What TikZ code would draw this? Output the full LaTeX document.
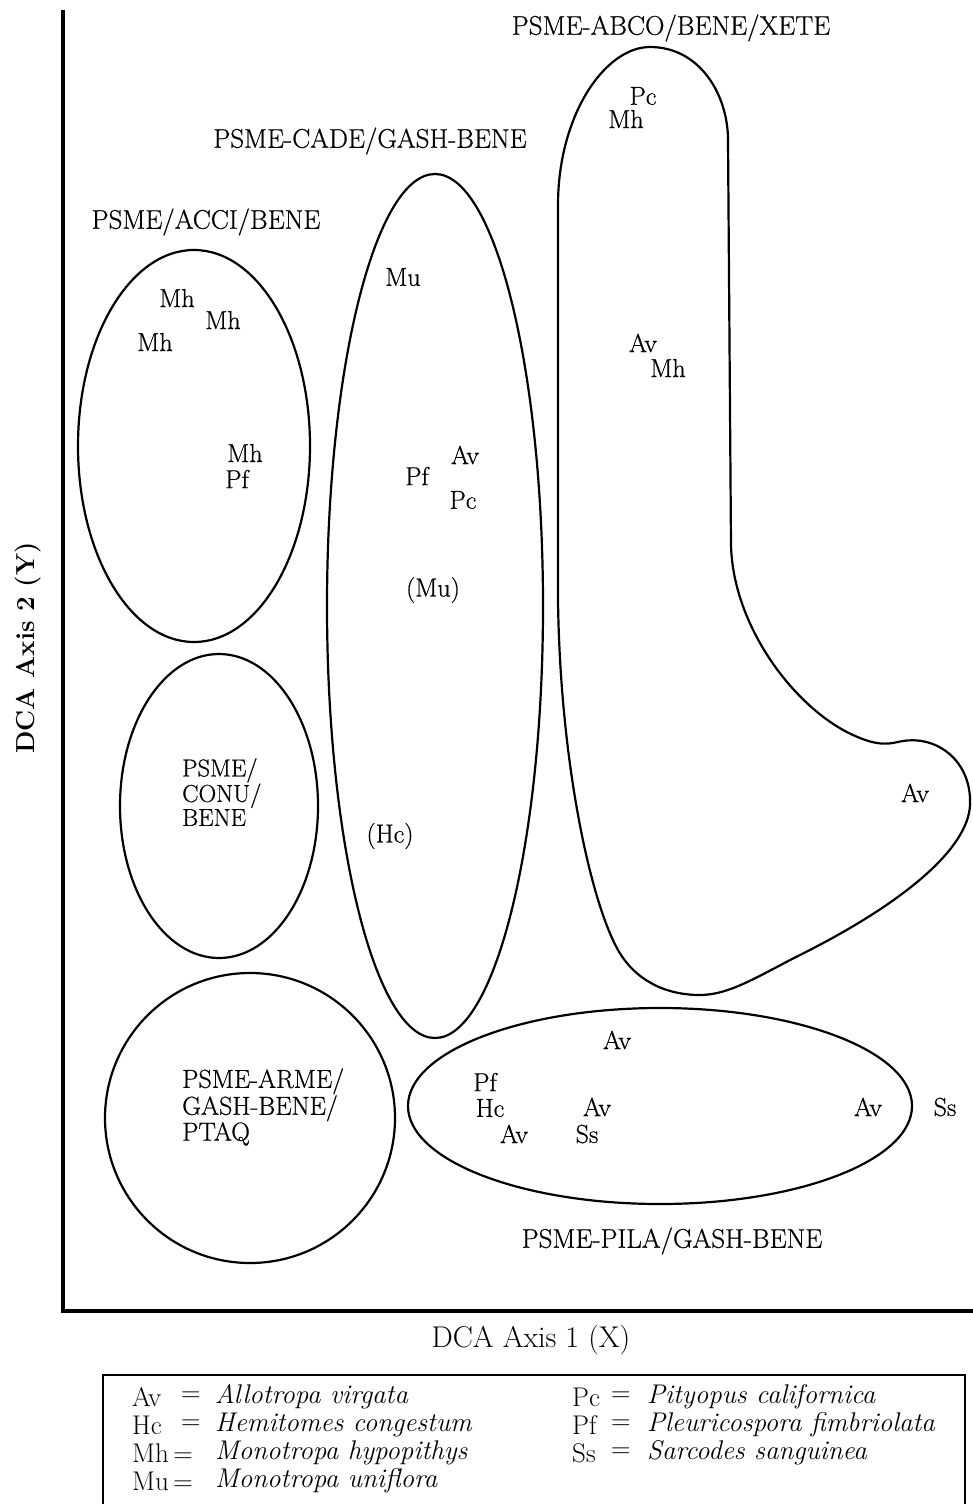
\documentclass[tikz,border=0pt]{standalone}
\usepackage{fontspec}
\newfontfamily\heavyrm{Latin Modern Roman}[FakeBold=0.6]
\begin{document}
\begin{tikzpicture}[x=1pt,y=-1pt,
  region/.style={draw=black, line width=2.2pt},
  lab/.style={font=\heavyrm\fontsize{27}{29}\selectfont, inner sep=0pt},
  sp/.style={font=\heavyrm\fontsize{26}{27}\selectfont, inner sep=0pt},
  blk/.style={font=\heavyrm\fontsize{24.5}{24}\selectfont, inner sep=0pt, align=left, anchor=west},
  leg/.style={font=\fontsize{27}{28}\selectfont, inner sep=0pt, anchor=west},
  axis/.style={line width=4pt}]
\useasboundingbox (0,0) rectangle (972,1504);
% axes
\coordinate (ytop) at (63,10);
\coordinate (orig) at (63,1311);
\coordinate (xend) at (975,1311);
\draw[axis] (ytop) -- (orig) -- (xend);
\node[font=\bfseries\fontsize{26}{28}\selectfont, rotate=90, inner sep=0pt] (ylab) at (28,648) {DCA Axis 2 (Y)};
\node[font=\fontsize{30}{32}\selectfont, inner sep=0pt] (xlab) at (531,1340) {DCA Axis 1 (X)};
% regions
\draw[region] (194,446) ellipse [x radius=116, y radius=196];
\draw[region] (219,806) ellipse [x radius=99, y radius=152];
\draw[region] (250,1118) ellipse [x radius=145, y radius=145];
\draw[region] (435,606) ellipse [x radius=108, y radius=432];
\draw[region] (660,1106) ellipse [x radius=252, y radius=98];
\draw[region] (558,600) -- (558,205)
  .. controls (558,115) and (605,47) .. (650,47)
  .. controls (700,47) and (728,95) .. (728,140)
  -- (731,545)
  .. controls (733,630) and (800,715) .. (860,738)
  .. controls (875,744) and (885,745) .. (898,742)
  .. controls (935,733) and (972,760) .. (970,805)
  .. controls (968,850) and (900,905) .. (800,955)
  .. controls (760,975) and (730,995) .. (700,995)
  .. controls (665,995) and (635,980) .. (618,950)
  .. controls (590,900) and (560,760) .. (558,600) -- cycle;
% region labels
\node[lab] (tABCO) at (671,28) {PSME-ABCO/BENE/XETE};
\node[lab] (tCADE) at (370,141) {PSME-CADE/GASH-BENE};
\node[lab] (tACCI) at (206,222) {PSME/ACCI/BENE};
\node[lab] (tPILA) at (672,1241) {PSME-PILA/GASH-BENE};
\node[blk] (tCONU) at (182,792) {PSME/\\CONU/\\BENE};
\node[blk, font=\heavyrm\fontsize{26}{24}\selectfont] (tARME) at (182,1107) {PSME-ARME/\\GASH-BENE/\\PTAQ};
% species, ACCI
\node[sp] (a1) at (177,298) {Mh};
\node[sp] (a2) at (223,320) {Mh};
\node[sp] (a3) at (155,342) {Mh};
\node[sp] (a4) at (245,453) {Mh};
\node[sp] (a5) at (237,479) {Pf};
% CADE
\node[sp] (c1) at (403,277) {Mu};
\node[sp] (c2) at (465,455) {Av};
\node[sp] (c3) at (417,476) {Pf};
\node[sp] (c4) at (463,500) {Pc};
\node[sp] (c5) at (433,590) {(Mu)};
\node[sp] (c6) at (390,836) {(Hc)};
% ABCO
\node[sp] (b1) at (643,96) {Pc};
\node[sp] (b2) at (626,119) {Mh};
\node[sp] (b3) at (643,343) {Av};
\node[sp] (b4) at (668,368) {Mh};
\node[sp] (b5) at (915,793) {Av};
% PILA
\node[sp] (p1) at (617,1040) {Av};
\node[sp] (p2) at (485,1082) {Pf};
\node[sp] (p3) at (490,1108) {Hc};
\node[sp] (p4) at (514,1134) {Av};
\node[sp] (p5) at (597,1107) {Av};
\node[sp] (p6) at (587,1134) {Ss};
\node[sp] (p7) at (868,1107) {Av};
\node[sp] (p8) at (945,1107) {Ss};
% legend
\coordinate (lgA) at (103,1530);
\coordinate (lgB) at (103,1375);
\coordinate (lgC) at (965,1375);
\coordinate (lgD) at (965,1530);
\draw[line width=1.8pt] (lgA) -- (lgB) -- (lgC) -- (lgD);
\node[leg] (l1a) at (132,1397) {Av};
\node[leg] (l1b) at (181,1397) {=};
\node[leg] (l1c) at (215,1397) {\itshape Allotropa virgata};
\node[leg] (l2a) at (132,1425) {Hc};
\node[leg] (l2b) at (181,1425) {=};
\node[leg] (l2c) at (215,1425) {\itshape Hemitomes congestum};
\node[leg] (l3a) at (132,1453) {Mh\,=};
\node[leg] (l3c) at (215,1453) {\itshape Monotropa hypopithys};
\node[leg] (l4a) at (132,1481) {Mu\,=};
\node[leg] (l4c) at (215,1481) {\itshape Monotropa uniflora};
\node[leg] (l5a) at (572,1397) {Pc};
\node[leg] (l5b) at (611,1397) {=};
\node[leg] (l5c) at (647,1397) {\itshape Pityopus californica};
\node[leg] (l6a) at (572,1425) {Pf};
\node[leg] (l6b) at (611,1425) {=};
\node[leg] (l6c) at (647,1425) {\itshape Pleuricospora fimbriolata};
\node[leg] (l7a) at (572,1453) {Ss};
\node[leg] (l7b) at (611,1453) {=};
\node[leg] (l7c) at (647,1453) {\itshape Sarcodes sanguinea};
\end{tikzpicture}
\end{document}
